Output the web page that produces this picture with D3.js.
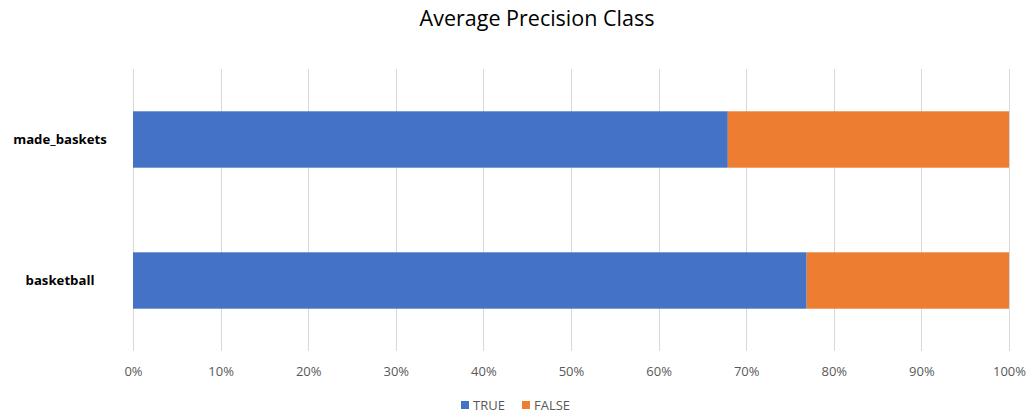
<!DOCTYPE html>
<html>
<head>
<meta charset="utf-8">
<script src="https://cdn.jsdelivr.net/npm/d3@7"></script>
<style>
  html, body { margin: 0; padding: 0; background: #fff; }
  svg { display: block; font-family: "Open Sans", "Liberation Sans", sans-serif; }
</style>
</head>
<body>
<svg id="chart" width="1031" height="416"></svg>
<script>
// Share of each class, top to bottom
const categories = ["made_baskets", "basketball"];
const trueValues = [0.679, 0.769];
const falseValues = [0.321, 0.231];
const seriesNames = ["TRUE", "FALSE"];
const tickValues = [0, 0.1, 0.2, 0.3, 0.4, 0.5, 0.6, 0.7, 0.8, 0.9, 1.0];

const colors = { TRUE: "#4472C4", FALSE: "#ED7D31" };

const svg = d3.select("#chart");
const margin = { left: 133, right: 22, top: 69, bottom: 65 };
const W = 1031, H = 416;

const x = d3.scaleLinear().domain([0, 1]).range([margin.left, W - margin.right]);
const y = d3.scaleBand().domain(categories).range([margin.top, H - margin.bottom])
  .paddingInner(0.6).paddingOuter(0.3);

// Title
svg.append("text")
  .attr("x", 537).attr("y", 26)
  .attr("text-anchor", "middle")
  .attr("font-size", 21.5)
  .attr("fill", "#000")
  .text("Average Precision Class");

// Vertical gridlines
svg.append("g")
  .selectAll("line")
  .data(tickValues)
  .join("line")
  .attr("x1", d => Math.round(x(d)) + 0.5)
  .attr("x2", d => Math.round(x(d)) + 0.5)
  .attr("y1", margin.top)
  .attr("y2", H - margin.bottom)
  .attr("stroke", "#D9D9D9")
  .attr("stroke-width", 1);

// Stacked bars
const stackData = categories.map((c, i) => ({ cat: c, TRUE: trueValues[i], FALSE: falseValues[i] }));
const stacked = d3.stack().keys(seriesNames)(stackData);

svg.append("g")
  .selectAll("g")
  .data(stacked)
  .join("g")
  .attr("fill", d => colors[d.key])
  .selectAll("rect")
  .data(d => d)
  .join("rect")
  .attr("x", d => x(d[0]))
  .attr("width", d => x(d[1]) - x(d[0]))
  .attr("y", d => y(d.data.cat))
  .attr("height", y.bandwidth());

// X axis labels
const xAxis = d3.axisBottom(x)
  .tickValues(tickValues)
  .tickFormat(d3.format(".0%"))
  .tickSize(0)
  .tickPadding(0);

const gx = svg.append("g")
  .attr("transform", `translate(0, ${H - margin.bottom + 16})`)
  .call(xAxis);
gx.select(".domain").remove();
gx.selectAll("text")
  .attr("font-size", 13)
  .attr("font-family", "\"Open Sans\", sans-serif")
  .attr("fill", "#595959")
  .attr("dy", "0.71em");

// Category labels
const yAxis = d3.axisLeft(y).tickSize(0).tickPadding(0);
const gy = svg.append("g")
  .attr("transform", "translate(60, 0)")
  .call(yAxis);
gy.select(".domain").remove();
gy.selectAll("text")
  .attr("text-anchor", "middle")
  .attr("font-size", 13.2)
  .attr("font-weight", "bold")
  .attr("font-family", "\"Open Sans\", sans-serif")
  .attr("fill", "#000");

// Legend
const legend = svg.append("g").attr("transform", "translate(461, 401)");
const legendX = [0, 61];
seriesNames.forEach((name, i) => {
  const g = legend.append("g").attr("transform", `translate(${legendX[i]}, 0)`);
  g.append("rect").attr("width", 8).attr("height", 8).attr("fill", colors[name]);
  g.append("text")
    .attr("x", 12).attr("y", 4)
    .attr("dy", "0.35em")
    .attr("font-size", 13)
    .attr("fill", "#595959")
    .text(name);
});
</script>
</body>
</html>
